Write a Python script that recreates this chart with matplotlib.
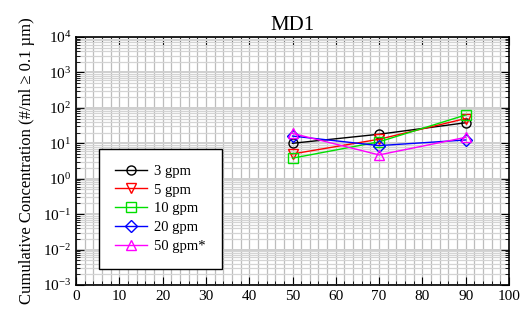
import numpy as np
import matplotlib
matplotlib.use("Agg")
import matplotlib.pyplot as plt
from matplotlib.ticker import FixedLocator, MultipleLocator, NullFormatter

plt.rcParams['font.family'] = ['Liberation Serif', 'DejaVu Serif']
plt.rcParams['mathtext.fontset'] = 'stix'

# data
flow_pct = [50, 70, 90]
labels = ['3 gpm', '5 gpm', '10 gpm', '20 gpm', '50 gpm*']
conc_3 = [10.0, 18.0, 38.0]
conc_5 = [5.0, 13.0, 50.0]
conc_10 = [3.8, 11.0, 63.0]
conc_20 = [16.0, 8.6, 12.4]
conc_50 = [19.0, 4.7, 14.7]

series = [conc_3, conc_5, conc_10, conc_20, conc_50]
colors = ['black', 'red', '#00e000', 'blue', 'magenta']
markers = ['o', 'v', 's', 'D', '^']

fig = plt.figure(figsize=(5.29, 3.26), dpi=100)
ax = fig.add_axes([0.1437, 0.1258, 0.8185, 0.7607])

for y, c, m, lab in zip(series, colors, markers, labels):
    ax.plot(flow_pct, y, color=c, marker=m, markersize=6.5, markerfacecolor='none',
            markeredgecolor=c, linewidth=1.0, label=lab)

ax.set_yscale('log')
ax.set_xlim(0, 100)
ax.set_ylim(1e-3, 1e4)
ax.xaxis.set_major_locator(MultipleLocator(10))
ax.xaxis.set_minor_locator(MultipleLocator(2))

# decade ticks only inside the visible range
decades = 10.0 ** np.arange(-3, 5)
minor_y = [d * k for d in decades[:-1] for k in range(2, 10)]
ax.yaxis.set_major_locator(FixedLocator(decades))
ax.yaxis.set_minor_locator(FixedLocator(minor_y))
ax.yaxis.set_minor_formatter(NullFormatter())

ax.grid(True, which='both', axis='x', color='#bdbdbd', linewidth=0.9)
ax.grid(True, which='major', axis='y', color='#cfcfcf', linewidth=1.4)
ax.grid(True, which='minor', axis='y', color='#d4d4d4', linewidth=0.9)
ax.set_axisbelow(True)

ax.tick_params(which='both', direction='in', top=True, right=True, labelsize=11)
ax.tick_params(which='major', length=6)
ax.tick_params(which='minor', length=3)
for s in ax.spines.values():
    s.set_linewidth(1.2)

ax.set_title('MD1', fontsize=15, pad=5)
ax.set_ylabel('Cumulative Concentration (#/ml \u2265 0.1 \u00b5m)', fontsize=12, labelpad=6)

leg = ax.legend(loc='lower left', bbox_to_anchor=(0.053, 0.065), borderaxespad=0,
                fontsize=10.5, frameon=True, fancybox=False, edgecolor='black',
                framealpha=1, handlelength=2.2, handletextpad=0.5,
                borderpad=1.1, labelspacing=0.38)
leg.get_frame().set_linewidth(1.0)

fig.savefig('out.png', dpi=100)
